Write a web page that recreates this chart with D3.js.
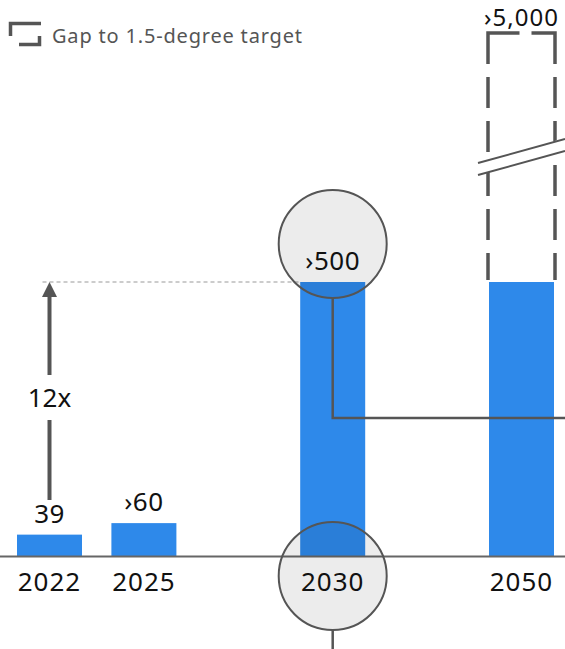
<!DOCTYPE html>
<html>
<head>
<meta charset="utf-8">
<script src="https://cdn.jsdelivr.net/npm/d3@7"></script>
<style>
  body { margin: 0; background: #fff; }
  svg { display: block; font-family: "Noto Sans", "DejaVu Sans", sans-serif; }
</style>
</head>
<body>
<script>
// chart data
const years = ['2022', '2025', '2030', '2050'];
const slots = [0, 1, 3, 5];          // horizontal slot of each year
const values = [39, 60, 500, 500];   // 2050 bar is cut by the axis break
const valueLabels = ['39', '›60', '›500', '›5,000'];
const multiplier = '12x';
const legendText = 'Gap to 1.5-degree target';

const width = 565, height = 649;
const barW = 65;
const baseY = 556;
const blue = '#2e89ea';
const dark = '#555';
const fs = '26px';

const svg = d3.select('body').append('svg')
    .attr('width', width)
    .attr('height', height);

const x = d3.scaleLinear().domain([0, 5]).range([49.5, 521.5]);
const y = d3.scaleLinear().domain([0, 500]).range([baseY, 282]);

const data = years.map((d, i) => ({ year: d, slot: slots[i], value: values[i], label: valueLabels[i] }));

// legend
const lg = svg.append('g');
lg.append('path')
    .attr('d', 'M10.5,36 V23.5 H41')
    .attr('fill', 'none').attr('stroke', dark).attr('stroke-width', 3.5);
lg.append('path')
    .attr('d', 'M19,44.5 H39.5 V36')
    .attr('fill', 'none').attr('stroke', dark).attr('stroke-width', 3.5);
lg.append('text')
    .attr('x', 52).attr('y', 43)
    .attr('fill', dark)
    .attr('textLength', 250)
    .style('font-size', '20px')
    .text(legendText);

// dashed "gap" box on 2050: two halves that meet at a gap in the top edge
const last = data[3];
const boxTop = 33;
const boxBottom = y(last.value) - 2;
const bx0 = x(last.slot) - barW / 2 - 1, bx1 = x(last.slot) + barW / 2 + 1;
const gapL = x(last.slot) - 2, gapR = x(last.slot) + 10;
const dashTail = ' 13 31 13 31 13 31 13 31 13 31 13 31 13 31 13 31';
svg.append('path')
    .attr('d', `M${gapL},${boxTop} H${bx0} V${boxBottom}`)
    .attr('fill', 'none').attr('stroke', dark).attr('stroke-width', 3.5)
    .attr('stroke-dasharray', (gapL - bx0 + 31) + dashTail + ' 13 400');
svg.append('path')
    .attr('d', `M${gapR},${boxTop} H${bx1} V${boxBottom}`)
    .attr('fill', 'none').attr('stroke', dark).attr('stroke-width', 3.5)
    .attr('stroke-dasharray', (bx1 - gapR + 31) + dashTail + ' 13 400');

// break marks
const brk = svg.append('g');
brk.append('polygon')
    .attr('points', `478,163 565,138 565,151 478,175`)
    .attr('fill', '#fff');
[[478, 163, 565, 139], [478, 175, 565, 151]].forEach(l => {
  brk.append('line')
      .attr('x1', l[0]).attr('y1', l[1]).attr('x2', l[2]).attr('y2', l[3])
      .attr('stroke', dark).attr('stroke-width', 2);
});

// reference dashed line at 2030 level
svg.append('line')
    .attr('x1', x(0) - 7).attr('x2', x(3) - barW / 2)
    .attr('y1', y(500)).attr('y2', y(500))
    .attr('stroke', '#999').attr('stroke-width', 1)
    .attr('stroke-dasharray', '4 3');

// bars
svg.selectAll('rect.bar')
    .data(data)
    .enter()
    .append('rect')
    .attr('class', 'bar')
    .attr('x', d => x(d.slot) - barW / 2)
    .attr('y', d => y(d.value))
    .attr('width', barW)
    .attr('height', d => baseY - y(d.value))
    .attr('fill', blue);

// baseline
svg.append('line')
    .attr('x1', 0).attr('x2', width)
    .attr('y1', baseY + 0.5).attr('y2', baseY + 0.5)
    .attr('stroke', '#666').attr('stroke-width', 2);

// connector from value circle to right edge
const cx = x(3);
svg.append('path')
    .attr('d', `M${cx},298 V418 H${width}`)
    .attr('fill', 'none').attr('stroke', dark).attr('stroke-width', 2.5);
svg.append('line')
    .attr('x1', cx).attr('x2', cx).attr('y1', 630).attr('y2', height)
    .attr('stroke', dark).attr('stroke-width', 2.5);

// highlight circles
[244, 576].forEach(cy => {
  svg.append('circle')
      .attr('cx', cx).attr('cy', cy).attr('r', 54)
      .attr('fill', '#000').attr('fill-opacity', 0.075)
      .attr('stroke', dark).attr('stroke-width', 2);
});

// growth arrow
const ax = x(0);
svg.append('line')
    .attr('x1', ax).attr('x2', ax).attr('y1', 500).attr('y2', 420)
    .attr('stroke', dark).attr('stroke-width', 4);
svg.append('line')
    .attr('x1', ax).attr('x2', ax).attr('y1', 375).attr('y2', 295)
    .attr('stroke', dark).attr('stroke-width', 4);
svg.append('path')
    .attr('d', `M${ax - 7.5},297 L${ax},${y(500)} L${ax + 7.5},297 Z`)
    .attr('fill', dark);
svg.append('text')
    .attr('x', ax).attr('y', 407)
    .attr('text-anchor', 'middle')
    .attr('fill', '#111')
    .style('font-size', fs)
    .text(multiplier);

// value labels (the 2050 one sits right under the top edge)
svg.selectAll('text.val')
    .data(data)
    .enter()
    .append('text')
    .attr('class', 'val')
    .attr('x', d => x(d.slot))
    .attr('y', (d, i) => i === 3 ? 26 : Math.min(y(d.value) - 12, 526))
    .attr('text-anchor', 'middle')
    .attr('fill', '#111')
    .style('font-size', (d, i) => i === 3 ? '24px' : fs)
    .style('letter-spacing', (d, i) => i === 3 ? '1px' : '0.5px')
    .text(d => d.label);

// year labels
svg.selectAll('text.year')
    .data(data)
    .enter()
    .append('text')
    .attr('class', 'year')
    .attr('x', d => x(d.slot))
    .attr('y', 591)
    .attr('text-anchor', 'middle')
    .attr('fill', '#111')
    .style('font-size', fs)
    .style('letter-spacing', '1px')
    .text(d => d.year);
</script>
</body>
</html>
